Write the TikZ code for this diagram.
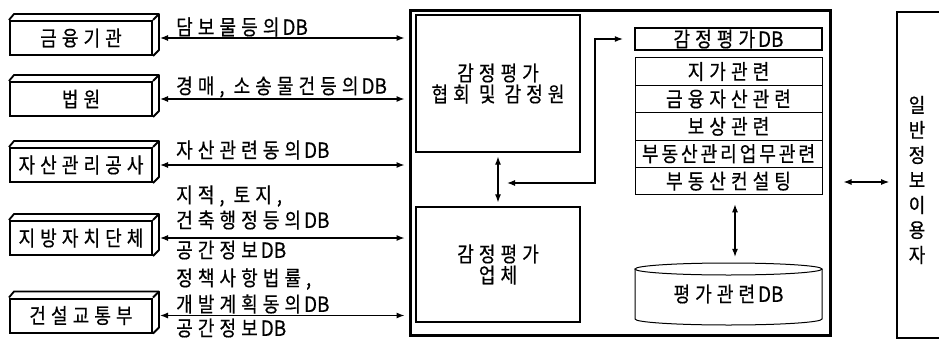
\documentclass[tikz,border=0pt]{standalone}
\usepackage{fontspec}
\setmainfont{Noto Sans CJK KR}
\newfontfamily\kr[FakeStretch=0.86, LetterSpace=24, FakeBold=0.5]{Noto Sans CJK KR}
\newfontfamily\krtight[FakeStretch=0.86, LetterSpace=14, FakeBold=0.5]{Noto Sans CJK KR}
\newfontfamily\krplain[FakeStretch=0.9, FakeBold=0.5]{Noto Sans CJK KR}
\newcommand\dbtxt{{\kern3pt\krplain DB}}
\usetikzlibrary{arrows.meta,calc}
\tikzset{
  fs/.style={font=\kr\fontsize{21}{23}\selectfont},
  leftbox/.style={draw, line width=2pt, fill=white, minimum width=142pt, minimum height=34pt, inner sep=0pt, fs},
  extr/.style={line width=1.8pt, line join=round},
  conn/.style={line width=1.1pt, {Latex[length=8pt,width=6pt]}-{Latex[length=8pt,width=6pt]}},
  lab/.style={anchor=west, inner sep=0pt, fs},
  frame/.style={draw, line width=3pt, minimum width=420pt, minimum height=325pt, inner sep=0pt},
  inbox/.style={draw, line width=1.3pt, minimum width=164pt, inner sep=0pt, align=center, font=\kr\fontsize{21}{21}\selectfont},
  dbhead/.style={draw, line width=2.4pt, minimum width=187pt, minimum height=22pt, inner sep=0pt, fs},
  rowbox/.style={draw, line width=1pt, minimum width=187pt, minimum height=27.4pt, inner sep=0pt, fs},
  userbox/.style={draw, line width=1.8pt, minimum width=50pt, minimum height=326pt, inner sep=0pt}
}
\begin{document}
\begin{tikzpicture}[x=1pt,y=-1pt]
\fill[white] (0,0) rectangle (939,340);
\useasboundingbox (0,0) rectangle (939,340);

% left 3D boxes
\node[leftbox] (kg) at (81,38) {금융기관};
\node[leftbox] (bw) at (81,99) {법원};
\node[leftbox] (ja) at (81,165) {자산관리공사};
\node[leftbox] (jb) at (81,238) {지방자치단체};
\node[leftbox] (gk) at (81,315.5) {건설교통부};
\foreach \n in {kg,bw,ja,jb,gk}{
  \draw[extr] (\n.north west) -- ++(5,-6) -- ($(\n.north east)+(6,-6)$) -- ($(\n.south east)+(6,-6)$) -- (\n.south east);
  \draw[extr] (\n.north east) -- ++(6,-6);
}

% main frame
\node[frame] (frame) at (620,172.5) {};
\node[inbox, minimum height=137pt] (hyp) at (498,83.5) {감정평가\\협회 및 감정원};
\node[inbox, minimum height=115pt] (upc) at (498,264.5) {감정평가\\업체};

% arrows from left boxes
\draw[conn, shorten >=4pt] ([xshift=7pt]kg.east) -- (kg.east -| frame.west);
\draw[conn, shorten >=4pt] ([xshift=7pt]bw.east) -- (bw.east -| frame.west);
\draw[conn, shorten >=4pt] ([xshift=7pt]ja.east) -- (ja.east -| frame.west);
\draw[conn, shorten >=4pt] ([xshift=7pt]jb.east) -- (jb.east -| frame.west);
\draw[conn, shorten >=4pt] ([xshift=7pt]gk.east) -- (gk.east -| frame.west);

% labels
\node[lab] (l1) at (176,27) {담보물등의\dbtxt};
\node[lab] (l2) at (176,87) {경매, 소송물건등의\dbtxt};
\node[lab] (l3) at (176,150) {자산관련동의\dbtxt};
\node[lab] (l4a) at (176,196) {지적, 토지,};
\node[lab] (l4b) at (176,220) {건축행정등의\dbtxt};
\node[lab] (l4c) at (176,250) {공간정보\dbtxt};
\node[lab] (l5a) at (176,279) {정책사항법률,};
\node[lab] (l5b) at (176,304) {개발계획동의\dbtxt};
\node[lab] (l5c) at (176,328) {공간정보\dbtxt};

% DB stack
\node[dbhead] (dbh) at (728.5,39) {감정평가\dbtxt};
\node[rowbox] (r1) at (728.5,71.5) {지가관련};
\node[rowbox] (r2) at (728.5,98.9) {금융자산관련};
\node[rowbox] (r3) at (728.5,126.3) {보상관련};
\node[rowbox, font=\krtight\fontsize{21}{23}\selectfont] (r4) at (728.5,153.7) {부동산관리업무관련};
\node[rowbox] (r5) at (728.5,181.1) {부동산컨설팅};

% cylinder
\node[minimum width=187pt, minimum height=62pt, inner sep=0pt, fs] (cyl) at (728.5,294) {평가관련\dbtxt};
\draw[line width=1pt] (635,269) -- (635,319) arc[start angle=180, end angle=360, x radius=93.5pt, y radius=6pt] -- (822,269);
\draw[line width=1pt] (728.5,269) ellipse [x radius=93.5pt, y radius=6pt];

% inner arrows
\draw[conn, shorten <=4pt, shorten >=4pt] (hyp.south) -- (upc.north);
\coordinate (el) at (507,183);
\draw[conn, shorten >=11pt] (el) -- (595,183) |- (dbh.west);
\draw[conn, shorten <=9pt, shorten >=7pt] ([xshift=6.5pt]r5.south) -- ([xshift=6.5pt,yshift=-1pt]cyl.north);

% user box
\node[userbox] (user) at (922,175) {};
\node[inner sep=0pt, align=center, font=\krplain\fontsize{20}{25}\selectfont] (ut) at (917,180) {일\\반\\정\\보\\이\\용\\자};
\draw[conn] ([shift={(12,9.5)}]frame.east) -- ([shift={(-7,7)}]user.west);
\end{tikzpicture}
\end{document}
